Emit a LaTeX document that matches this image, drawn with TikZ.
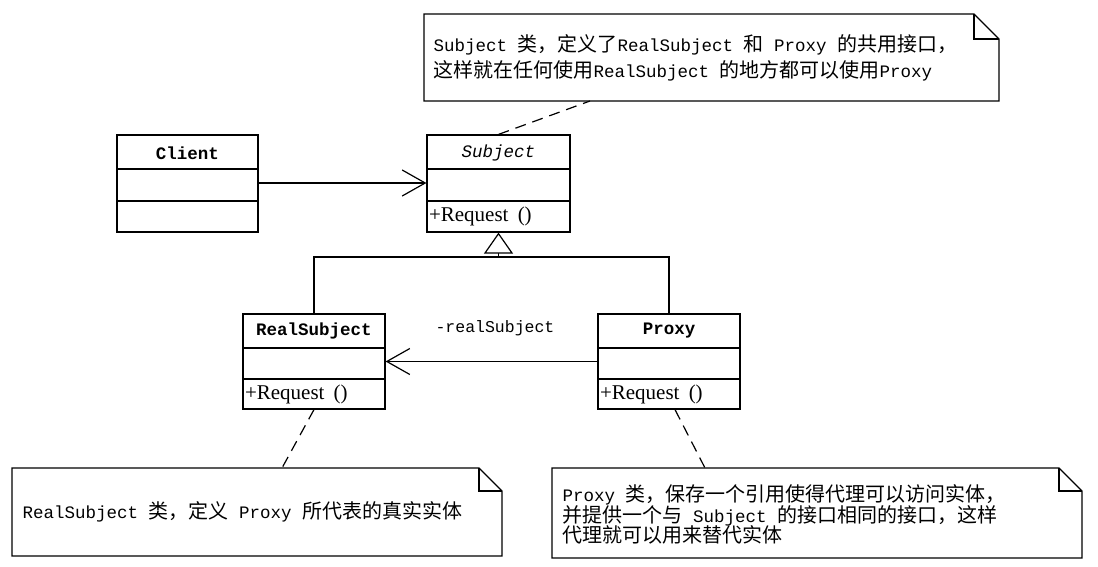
\documentclass[tikz,border=0pt]{standalone}
\usepackage{fontspec}
\setmainfont{Liberation Serif}
\newfontfamily\cjkf{Noto Sans CJK SC}
\newfontfamily\monof{Liberation Mono}
\usetikzlibrary{arrows.meta}
\newcommand{\cn}[1]{{\cjkf\fontsize{20}{24}\selectfont #1}}
\newcommand{\lt}[1]{{\monof\fontsize{17.5}{24}\selectfont #1}}
\begin{document}
\begin{tikzpicture}[x=1pt,y=-1pt,line width=1.2pt,
  classbox/.style={draw,rectangle,inner sep=0pt,minimum width=142pt,minimum height=96pt},
  cname/.style={font=\monof\bfseries\fontsize{17.5}{20}\selectfont,inner sep=0pt},
  member/.style={font=\fontsize{21}{24}\selectfont,inner sep=0pt,anchor=west},
  notetext/.style={inner sep=0pt,anchor=west,align=left},
  assoc/.style={-{Straight Barb[length=23pt,width=26pt,line width=1.2pt]}},
  inherit/.style={-{Triangle[open,length=21pt,width=29pt,fill=white,line width=1.2pt]}},
  anchorline/.style={dash pattern=on 11pt off 7pt}]
\fill[white] (0,0) rectangle (1098,567);
\useasboundingbox (0,0) rectangle (1098,567);

% classes
\node[classbox,minimum width=141pt,minimum height=97pt] (client) at (187.5,183.5) {};
\node[classbox,minimum width=143pt,minimum height=97pt] (subject) at (498.5,183.5) {};
\node[classbox,minimum width=142pt,minimum height=95pt] (real) at (314,361.5) {};
\node[classbox,minimum width=142pt,minimum height=95pt] (proxy) at (669,361.5) {};

\foreach \b in {client,subject}{
  \draw (\b.west |- 0,169) -- (\b.east |- 0,169);
  \draw (\b.west |- 0,201) -- (\b.east |- 0,201);}
\foreach \b in {real,proxy}{
  \draw (\b.west |- 0,348) -- (\b.east |- 0,348);
  \draw (\b.west |- 0,379) -- (\b.east |- 0,379);}

\node[cname] (clientname) at (client.center |- 0,153) {Client};
\node[cname,font=\monof\itshape\fontsize{17.5}{20}\selectfont] (subjectname) at (subject.center |- 0,153) {Subject};
\node[cname] (realname) at (real.center |- 0,331) {RealSubject};
\node[cname] (proxyname) at (proxy.center |- 0,331) {Proxy};

\node[member] (subjectop) at ([xshift=2pt]subject.west |- 0,216.5) {+Request\hspace{4pt} ()};
\node[member] (realop) at ([xshift=2pt]real.west |- 0,394) {+Request\hspace{4pt} ()};
\node[member] (proxyop) at ([xshift=2pt]proxy.west |- 0,394) {+Request\hspace{4pt} ()};

% connectors
\draw[assoc] (client.east |- 0,183) -- (subject.west |- 0,183);
\coordinate (bar) at (subject.south |- 0,257);
\draw (real.north) |- (bar) -| (proxy.north);
\draw[inherit] (bar) -- (subject.south);
\draw[assoc] (proxy.west) -- (real.east);
\node[font=\monof\fontsize{16.5}{20}\selectfont,inner sep=0pt] (rslabel) at (495,328) {-realSubject};

% notes
\coordinate (n1a) at (424,14); \coordinate (n1b) at (999,101);
\coordinate (n2a) at (12,468); \coordinate (n2b) at (502,556);
\coordinate (n3a) at (552,468); \coordinate (n3b) at (1082,558);
\foreach \a/\b/\f in {n1a/n1b/25,n2a/n2b/23,n3a/n3b/23}{
  \draw[fill=white] (\a |- \b) -- (\a) -- ([xshift=-\f pt]\a -| \b) -- ([yshift=-\f pt]\a -| \b) -- (\b) -- cycle;
  \draw ([xshift=-\f pt]\a -| \b) -- ([xshift=-\f pt,yshift=-\f pt]\a -| \b) -- ([yshift=-\f pt]\a -| \b);}

\node[notetext] (note1) at (433,58) {\lt{Subject }\cn{类，定义了}\lt{RealSubject }\cn{和}\lt{ Proxy }\cn{的共用接口，}\\[4pt]
  \cn{这样就在任何使用}\lt{RealSubject }\cn{的地方都可以使用}\lt{Proxy}};
\node[notetext] (note2) at (22,512) {\lt{RealSubject }\cn{类，定义}\lt{ Proxy }\cn{所代表的真实实体}};
\node[notetext] (note3) at (562,514.5) {\lt{Proxy }\cn{类，保存一个引用使得代理可以访问实体，}\\[-1pt]
  \cn{并提供一个与}\lt{ Subject }\cn{的接口相同的接口，这样}\\[-1pt]
  \cn{代理就可以用来替代实体}};

\coordinate (d1) at (590,101);
\coordinate (d2) at (282,468);
\coordinate (d3) at (705,468);
\draw[anchorline] (subject.north) -- (d1);
\draw[anchorline] (real.south) -- (d2);
\draw[anchorline] ([xshift=6pt]proxy.south) -- (d3);
\end{tikzpicture}
\end{document}
